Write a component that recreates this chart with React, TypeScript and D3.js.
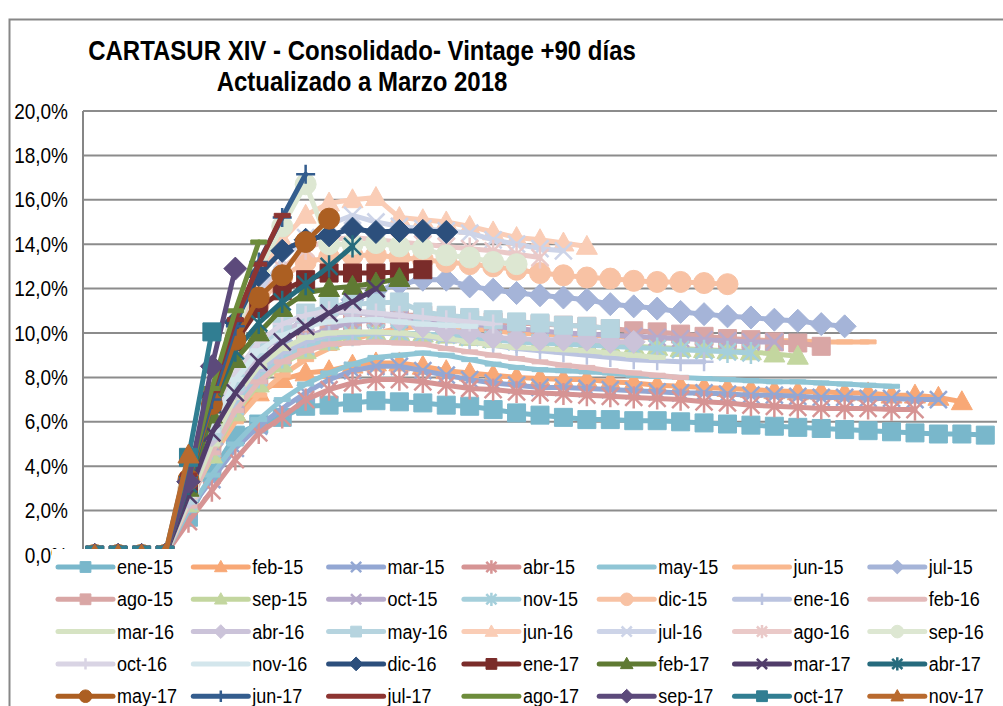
import React from 'react';
import * as d3 from 'd3';

// vintages (cohorts), one line each
const vintages = [
  'ene-15', 'feb-15', 'mar-15', 'abr-15', 'may-15', 'jun-15', 'jul-15',
  'ago-15', 'sep-15', 'oct-15', 'nov-15', 'dic-15', 'ene-16', 'feb-16',
  'mar-16', 'abr-16', 'may-16', 'jun-16', 'jul-16', 'ago-16', 'sep-16',
  'oct-16', 'nov-16', 'dic-16', 'ene-17', 'feb-17', 'mar-17', 'abr-17',
  'may-17', 'jun-17', 'jul-17', 'ago-17', 'sep-17', 'oct-17', 'nov-17',
];

const colors = [
  '#79b7cb', '#f8a876', '#93a7d3', '#d69494', '#8fc5d5', '#f9b88f', '#a5b4d8',
  '#d9a6a5', '#c3d69f', '#b7aacb', '#a5cfdb', '#f8c2a4', '#bbc4e0', '#e3baba',
  '#d6e3c3', '#cbc3d9', '#b6d4df', '#facdb6', '#cdd4e8', '#eac9c8', '#dde7d2',
  '#d9d4e4', '#d3e6ec', '#2c4f7c', '#7a2c2a', '#5f7a33', '#513d6a', '#266b7d',
  '#ac5f22', '#345d8e', '#8d3532', '#6d8c3b', '#5c4a7b', '#317e92', '#b96a2e',
];

const markers = [
  'square', 'triangle', 'x', 'asterisk', 'dash', 'dash', 'diamond',
  'square', 'triangle', 'x', 'asterisk', 'circle', 'plus', 'dash',
  'dash', 'diamond', 'square', 'triangle', 'x', 'asterisk', 'circle',
  'plus', 'dash', 'diamond', 'square', 'triangle', 'x', 'asterisk',
  'circle', 'plus', 'dash', 'dash', 'diamond', 'square', 'triangle',
];

// months on book (category axis, no visible labels)
const monthsOnBook = Array.from({ length: 39 }, (_, i) => i);
const yTicks = [0, 2, 4, 6, 8, 10, 12, 14, 16, 18, 20];

// % +90 días por mes desde originación
const ene15 = [0, 0, 0, 0, 1.7, 3.7, 5.4, 5.9, 6.2, 6.7, 6.75, 6.85, 6.95, 6.9, 6.85, 6.75, 6.7, 6.55, 6.4, 6.3, 6.2, 6.1, 6.1, 6.05, 6.05, 6.0, 5.95, 5.9, 5.85, 5.8, 5.75, 5.7, 5.65, 5.6, 5.55, 5.5, 5.45, 5.45, 5.4];
const feb15 = [0, 0, 0, 0, 2.6, 4.6, 6.4, 7.3, 7.9, 8.2, 8.3, 8.55, 8.65, 8.65, 8.5, 8.3, 8.2, 8.1, 8.0, 7.95, 7.9, 7.9, 7.8, 7.75, 7.65, 7.6, 7.55, 7.5, 7.45, 7.4, 7.35, 7.35, 7.3, 7.3, 7.2, 7.2, 7.1, 6.9];
const mar15 = [0, 0, 0, 0, 2.0, 3.4, 4.8, 5.8, 6.6, 7.3, 7.9, 8.3, 8.5, 8.5, 8.3, 8.1, 7.9, 7.75, 7.65, 7.55, 7.55, 7.5, 7.45, 7.4, 7.35, 7.3, 7.3, 7.25, 7.2, 7.2, 7.15, 7.1, 7.1, 7.05, 7.05, 7.0, 7.0];
const abr15 = [0, 0, 0, 0, 1.5, 2.9, 4.3, 5.5, 6.2, 7.0, 7.45, 7.75, 7.9, 7.9, 7.8, 7.65, 7.5, 7.45, 7.35, 7.3, 7.25, 7.2, 7.15, 7.1, 7.05, 7.0, 6.9, 6.85, 6.75, 6.7, 6.65, 6.6, 6.6, 6.6, 6.55, 6.55];
const may15 = [0, 0, 0, 0, 2.0, 3.6, 5.0, 6.1, 7.0, 7.7, 8.2, 8.6, 8.9, 9.0, 9.1, 9.0, 8.8, 8.6, 8.45, 8.35, 8.3, 8.25, 8.2, 8.1, 8.05, 8.0, 7.95, 7.9, 7.85, 7.8, 7.8, 7.75, 7.7, 7.65, 7.6];
const jun15 = [0, 0, 0, 0, 2.4, 4.4, 6.0, 7.2, 8.1, 8.8, 9.3, 9.7, 10.0, 10.2, 10.3, 10.3, 10.2, 10.1, 10.0, 9.95, 9.9, 9.9, 9.85, 9.8, 9.8, 9.75, 9.75, 9.7, 9.7, 9.65, 9.65, 9.6, 9.6, 9.6];
const jul15 = [0, 0, 0, 0, 2.6, 5.0, 7.0, 8.5, 9.6, 10.4, 11.0, 11.5, 11.9, 12.2, 12.4, 12.4, 12.1, 11.95, 11.8, 11.7, 11.6, 11.5, 11.3, 11.2, 11.1, 10.95, 10.85, 10.75, 10.7, 10.6, 10.55, 10.4, 10.3];
const ago15 = [0, 0, 0, 0, 2.5, 4.8, 6.8, 8.1, 9.0, 9.7, 10.2, 10.5, 10.7, 10.8, 10.8, 10.7, 10.6, 10.5, 10.45, 10.4, 10.35, 10.3, 10.2, 10.1, 10.05, 9.95, 9.85, 9.75, 9.7, 9.6, 9.55, 9.4];
const sep15 = [0, 0, 0, 0, 2.3, 4.5, 6.4, 7.7, 8.6, 9.2, 9.6, 9.9, 10.0, 10.0, 9.95, 9.9, 9.8, 9.7, 9.65, 9.6, 9.55, 9.5, 9.45, 9.4, 9.35, 9.3, 9.25, 9.2, 9.15, 9.05, 8.95];
const oct15 = [0, 0, 0, 0, 2.5, 5.0, 7.0, 8.3, 9.2, 9.8, 10.2, 10.5, 10.6, 10.6, 10.55, 10.5, 10.4, 10.3, 10.2, 10.1, 10.0, 9.95, 9.9, 9.85, 9.8, 9.75, 9.7, 9.65, 9.6, 9.6];
const nov15 = [0, 0, 0, 0, 2.4, 4.8, 6.7, 8.0, 8.9, 9.4, 9.7, 9.9, 10.0, 10.0, 9.95, 9.9, 9.8, 9.7, 9.6, 9.55, 9.5, 9.45, 9.4, 9.35, 9.3, 9.25, 9.2, 9.15, 9.1];
const dic15 = [0, 0, 0, 0, 3.0, 6.5, 9.5, 11.3, 12.5, 13.2, 13.4, 13.5, 13.5, 13.4, 13.3, 13.2, 13.1, 13.0, 12.85, 12.7, 12.6, 12.5, 12.45, 12.35, 12.3, 12.3, 12.25, 12.2];
const ene16 = [0, 0, 0, 0, 2.5, 5.0, 7.0, 8.3, 9.1, 9.6, 9.9, 10.0, 10.0, 9.95, 9.85, 9.7, 9.6, 9.45, 9.3, 9.2, 9.1, 9.0, 8.9, 8.8, 8.75, 8.7, 8.7];
const feb16 = [0, 0, 0, 0, 2.2, 4.6, 6.5, 7.8, 8.7, 9.2, 9.5, 9.55, 9.6, 9.55, 9.5, 9.3, 9.15, 9.0, 8.85, 8.7, 8.55, 8.45, 8.3, 8.2, 8.1, 8.0];
const mar16 = [0, 0, 0, 0, 2.4, 5.0, 7.1, 8.5, 9.3, 9.8, 10.0, 10.05, 10.05, 10.0, 9.9, 9.75, 9.6, 9.45, 9.35, 9.3, 9.25, 9.2, 9.1, 9.0, 8.9];
const abr16 = [0, 0, 0, 0, 2.6, 5.4, 7.5, 9.0, 10.0, 10.6, 10.9, 10.95, 10.8, 10.6, 10.3, 10.1, 10.0, 9.8, 9.75, 9.7, 9.7, 9.7, 9.6, 9.6];
const may16 = [0, 0, 0, 0, 2.7, 5.6, 7.8, 9.3, 10.3, 10.9, 11.2, 11.3, 11.35, 11.4, 10.95, 10.8, 10.7, 10.6, 10.5, 10.45, 10.35, 10.3, 10.2];
const jun16 = [0, 0, 0, 0, 3.0, 6.5, 9.8, 12.5, 14.2, 15.3, 15.85, 16.0, 16.1, 15.2, 15.1, 15.0, 14.8, 14.55, 14.3, 14.2, 14.05, 13.9];
const jul16 = [0, 0, 0, 0, 2.9, 6.3, 9.5, 11.8, 13.3, 14.3, 14.9, 15.3, 15.0, 14.8, 14.7, 14.6, 14.5, 14.2, 14.0, 13.8, 13.7];
const ago16 = [0, 0, 0, 0, 2.9, 6.2, 9.3, 11.5, 12.9, 13.8, 14.2, 14.3, 14.2, 14.1, 14.0, 13.9, 13.8, 13.7, 13.55, 13.4];
const sep16 = [0, 0, 0, 0, 3.0, 6.6, 10.0, 12.8, 14.8, 16.7, 14.0, 14.0, 14.05, 13.9, 13.8, 13.5, 13.4, 13.2, 13.1];
const oct16 = [0, 0, 0, 0, 2.8, 5.8, 8.2, 9.6, 10.4, 10.8, 11.0, 11.0, 10.9, 10.8, 10.7, 10.6, 10.5, 10.4];
const nov16 = [0, 0, 0, 0, 2.7, 5.6, 7.9, 9.2, 9.9, 10.3, 10.5, 10.6, 10.6, 10.5, 10.4, 10.35, 10.3];
const dic16 = [0, 0, 0, 0, 3.3, 7.2, 10.5, 12.6, 13.7, 14.2, 14.4, 14.7, 14.55, 14.6, 14.6, 14.55];
const ene17 = [0, 0, 0, 0, 3.2, 6.8, 9.6, 11.1, 11.9, 12.4, 12.7, 12.7, 12.7, 12.75, 12.85];
const feb17 = [0, 0, 0, 0, 3.0, 6.3, 8.8, 10.0, 11.1, 11.8, 12.0, 12.1, 12.25, 12.45];
const mar17 = [0, 0, 0, 0, 2.7, 5.5, 7.3, 8.7, 9.6, 10.3, 10.9, 11.4, 12.0];
const abr17 = [0, 0, 0, 0, 3.2, 6.8, 9.2, 10.45, 11.4, 12.2, 13.0, 13.9];
const may17 = [0, 0, 0, 0, 3.4, 6.8, 9.7, 11.6, 12.6, 14.1, 15.15];
const jun17 = [0, 0, 0, 0, 3.5, 7.0, 10.3, 13.2, 15.2, 17.15];
const jul17 = [0, 0, 0, 0, 3.6, 7.4, 10.6, 13.1, 15.3];
const ago17 = [0, 0, 0, 0, 3.4, 7.5, 11.0, 14.1];
const sep17 = [0, 0, 0, 0, 3.3, 8.5, 12.9];
const oct17 = [0, 0, 0, 0, 4.4, 10.05];
const nov17 = [0, 0, 0, 0, 4.5];

const seriesValues = [
  ene15, feb15, mar15, abr15, may15, jun15, jul15, ago15, sep15, oct15, nov15, dic15,
  ene16, feb16, mar16, abr16, may16, jun16, jul16, ago16, sep16, oct16, nov16, dic16,
  ene17, feb17, mar17, abr17, may17, jun17, jul17, ago17, sep17, oct17, nov17,
];

const FONT = '"Liberation Sans", Arial, sans-serif';
const STRETCH = 1.12; // the source picture's text is a bit taller than wide

function markerPath(type: string, s: number): string {
  switch (type) {
    case 'square': {
      const h = 9 * s;
      return `M${-h},${-h}H${h}V${h}H${-h}Z`;
    }
    case 'diamond': {
      const r = 11.5 * s;
      return `M0,${-r}L${r},0L0,${r}L${-r},0Z`;
    }
    case 'triangle': {
      const r = 10.5 * s;
      return `M0,${-r * 1.05}L${r},${r * 0.75}L${-r},${r * 0.75}Z`;
    }
    case 'x': {
      const r = 8.5 * s;
      return `M${-r},${-r}L${r},${r}M${-r},${r}L${r},${-r}`;
    }
    case 'asterisk': {
      const r = 8.5 * s;
      return `M${-r},${-r}L${r},${r}M${-r},${r}L${r},${-r}M0,${-r * 1.3}L0,${r * 1.3}`;
    }
    case 'plus': {
      const r = 9.5 * s;
      return `M${-r},0L${r},0M0,${-r}L0,${r}`;
    }
    case 'dash': {
      const w = 8 * s;
      const h = 2 * s;
      return `M${-w},${-h}H${w}V${h}H${-w}Z`;
    }
    default:
      return '';
  }
}

function Marker({ type, color, x, y, s }: { type: string; color: string; x: number; y: number; s: number }) {
  if (type === 'circle') {
    return <circle cx={x} cy={y} r={10.5 * s} fill={color} stroke={color} strokeWidth={1} />;
  }
  const stroked = type === 'x' || type === 'asterisk' || type === 'plus';
  return (
    <path
      transform={`translate(${x},${y})`}
      d={markerPath(type, s)}
      fill={stroked ? 'none' : color}
      stroke={color}
      strokeWidth={stroked ? 2.5 : 1}
    />
  );
}

// text drawn with a slight vertical stretch around its baseline
function Label({ x, y, anchor = 'start', size, bold = false, children }: {
  x: number; y: number; anchor?: string; size: number; bold?: boolean; children: React.ReactNode;
}) {
  return (
    <text
      transform={`translate(${x},${y}) scale(1,${STRETCH})`}
      textAnchor={anchor}
      fontSize={size}
      fontWeight={bold ? 'bold' : 'normal'}
      fill="#000"
    >
      {children}
    </text>
  );
}

export default function App() {
  const width = 1003;
  const height = 706;
  const plotLeft = 83;
  const plotRight = 997;
  const plotTop = 111;
  const plotBottom = 555;

  const x = d3.scaleBand<number>().domain(monthsOnBook).range([plotLeft, plotRight]);
  const cx = (i: number) => (x(i) as number) + x.bandwidth() / 2;
  const y = d3.scaleLinear().domain([0, 20]).range([plotBottom, plotTop]);

  const line = d3.line<number>()
    .x((_, i) => cx(i))
    .y((d) => y(d));

  const fmt = (v: number) => `${v.toFixed(1).replace('.', ',')}%`;

  // legend grid
  const legendCols = 7;
  const colStep = 135.3;
  const rowStep = 32.3;
  const legendX0 = 58;
  const legendY0 = 567;

  return (
    <svg
      width={width}
      height={height}
      style={{ position: 'absolute', left: 0, top: 0, background: '#fff' }}
      fontFamily={FONT}
    >
      <rect x={0} y={0} width={width} height={height} fill="#fff" />
      {/* chart frame */}
      <path d={`M9.5,${height}V19.5H${width}`} fill="none" stroke="#878787" strokeWidth={2} />

      {/* title */}
      <Label x={362} y={60} anchor="middle" size={24} bold>
        CARTASUR XIV - Consolidado- Vintage +90 días
      </Label>
      <Label x={362} y={91} anchor="middle" size={24} bold>
        Actualizado a Marzo 2018
      </Label>

      {/* gridlines */}
      {yTicks.map((t) => (
        <line key={t} x1={plotLeft} x2={plotRight} y1={y(t)} y2={y(t)} stroke="#8c8c8c" strokeWidth={2} />
      ))}
      <line x1={plotLeft} x2={plotLeft} y1={plotTop} y2={plotBottom} stroke="#868686" strokeWidth={2} />
      {yTicks.map((t) => (
        <Label key={t} x={68} y={y(t) + 7.5} anchor="end" size={19}>
          {fmt(t)}
        </Label>
      ))}

      {/* series */}
      {seriesValues.map((vals, si) => (
        <g key={vintages[si]}>
          <path
            d={line(vals) || ''}
            fill="none"
            stroke={colors[si]}
            strokeWidth={5}
            strokeLinejoin="round"
            strokeLinecap="round"
          />
          {vals.map((v, i) => (
            <Marker key={i} type={markers[si]} color={colors[si]} x={cx(i)} y={y(v)} s={1} />
          ))}
        </g>
      ))}

      {/* legend */}
      <rect x={52} y={549} width={width - 52} height={height - 549} fill="#fff" />
      {vintages.map((name, i) => {
        const col = i % legendCols;
        const row = Math.floor(i / legendCols);
        const lx = legendX0 + col * colStep;
        const ly = legendY0 + row * rowStep;
        return (
          <g key={name}>
            <line x1={lx} x2={lx + 55} y1={ly} y2={ly} stroke={colors[i]} strokeWidth={5} strokeLinecap="round" />
            {markers[i] !== 'dash' && (
              <Marker type={markers[i]} color={colors[i]} x={lx + 27.5} y={ly} s={0.6} />
            )}
            <Label x={lx + 59} y={ly + 7} size={18}>
              {name}
            </Label>
          </g>
        );
      })}
    </svg>
  );
}
